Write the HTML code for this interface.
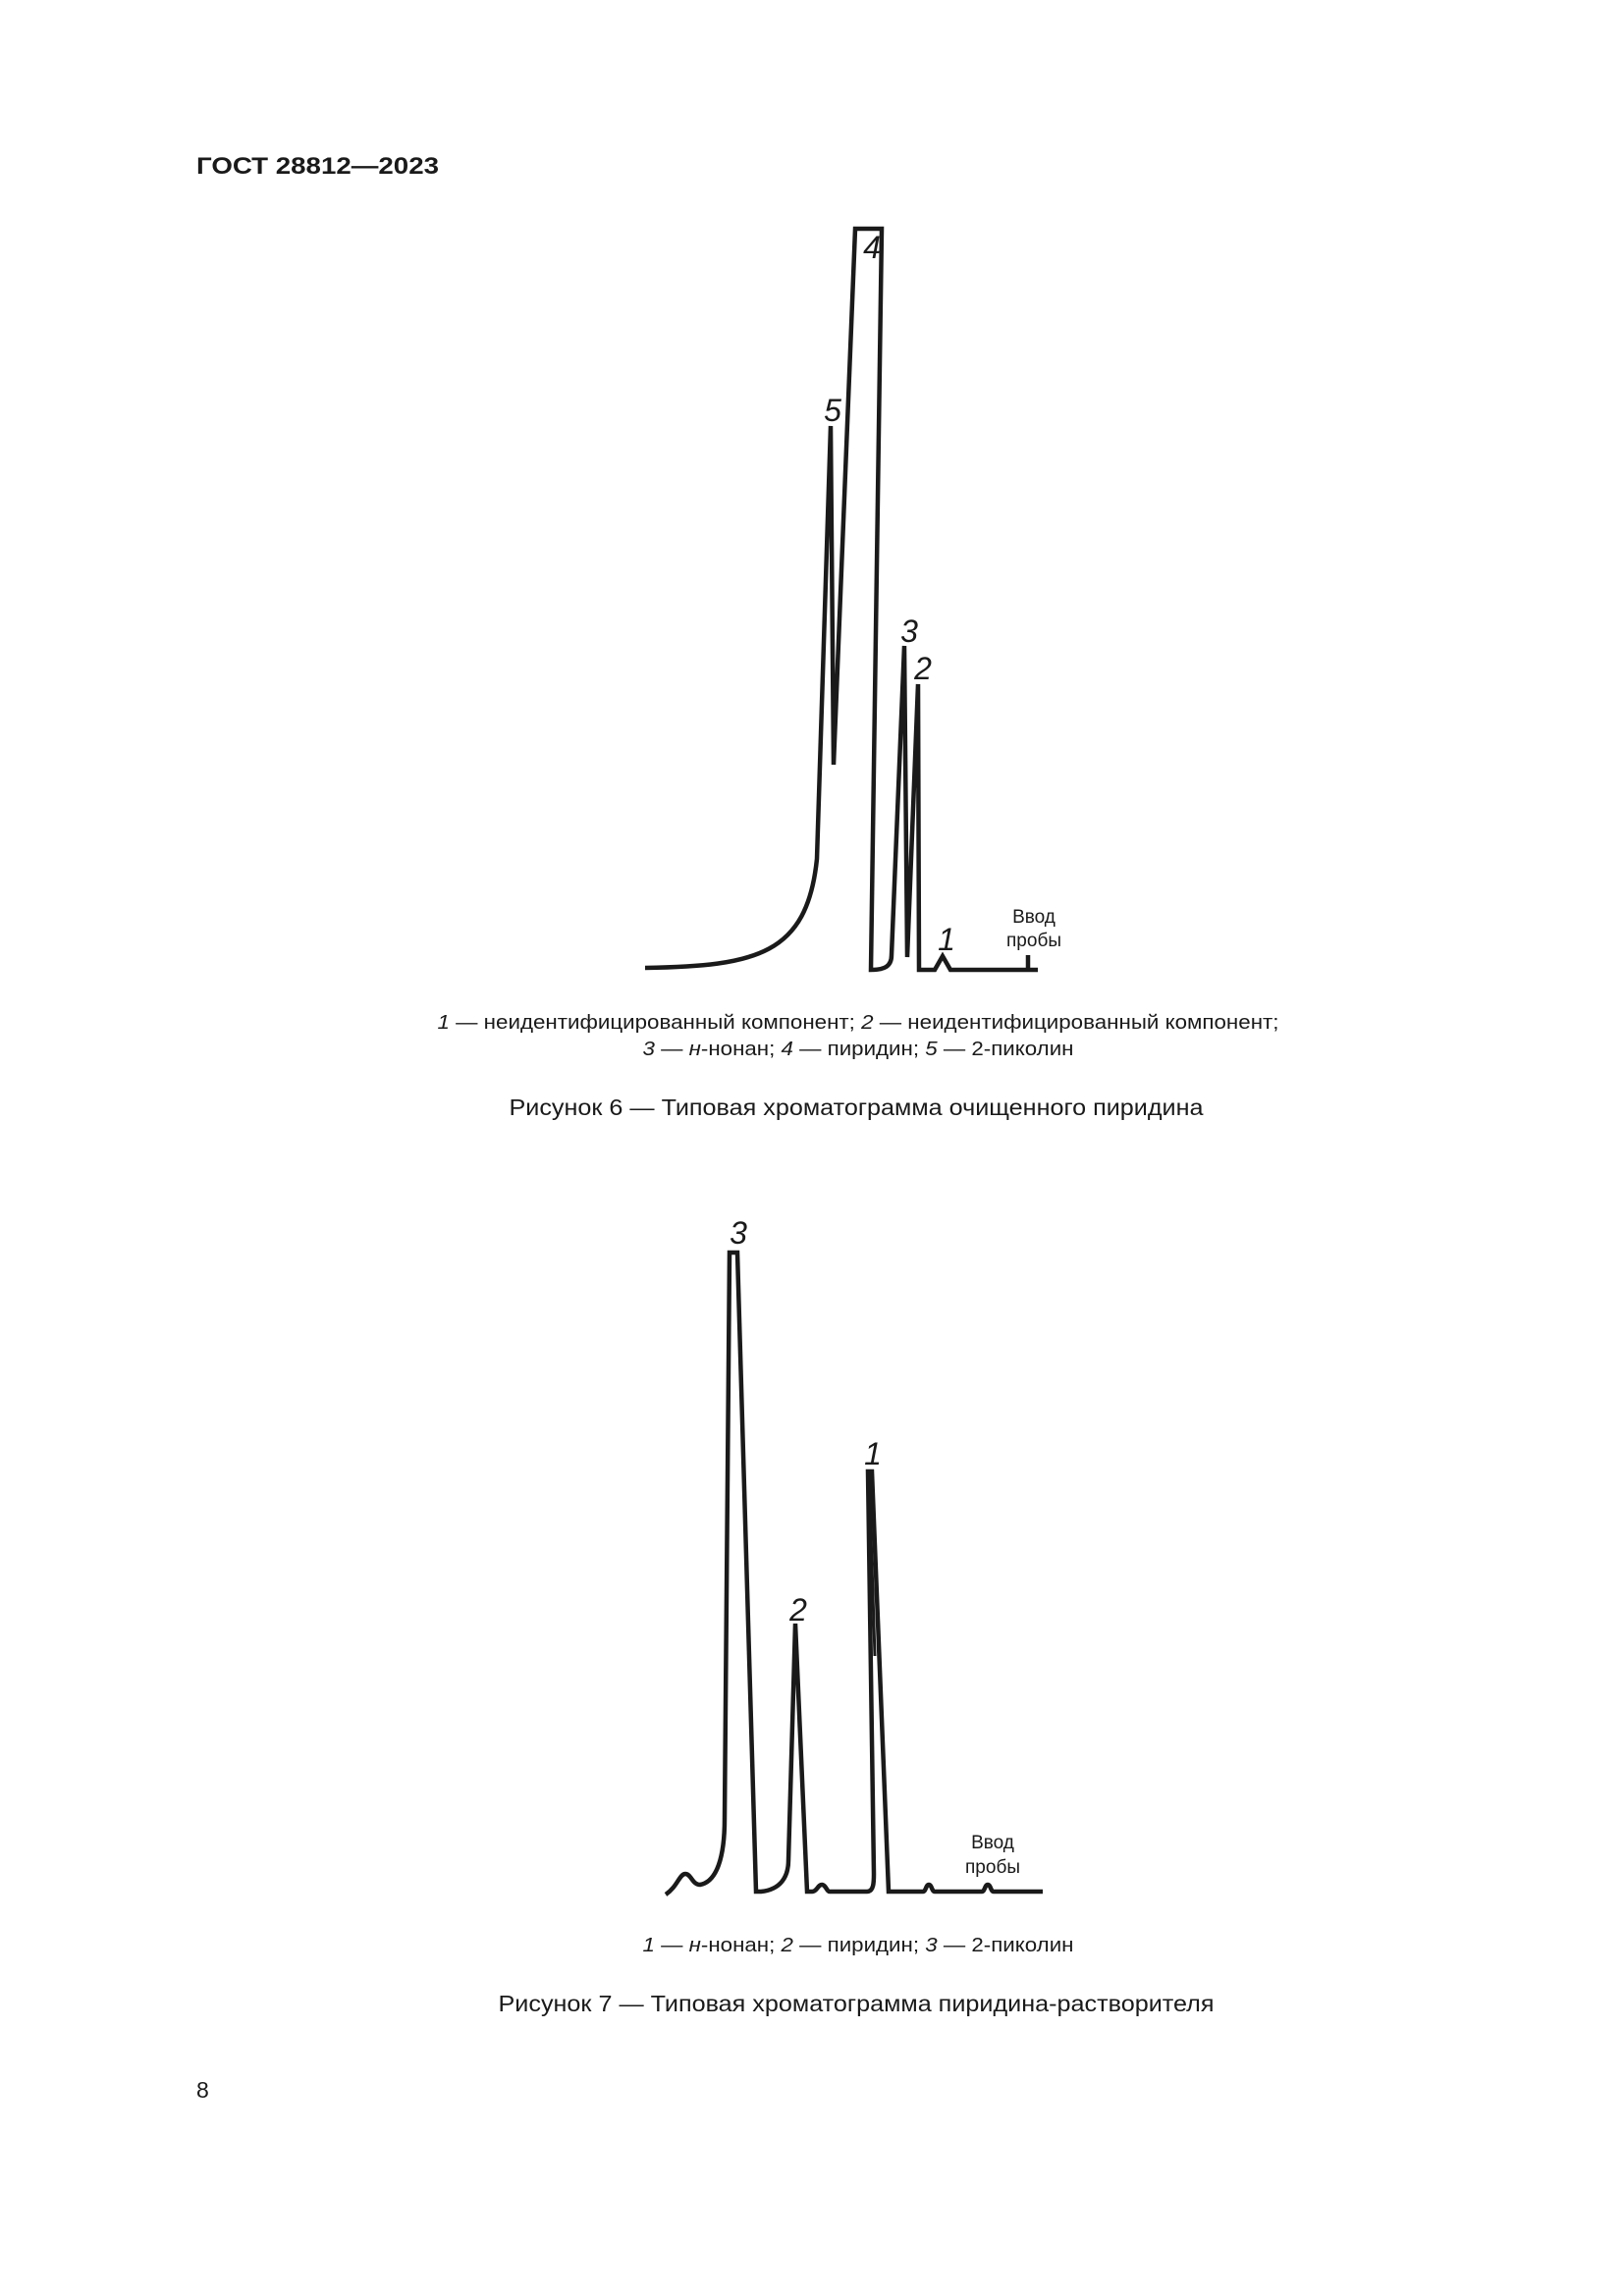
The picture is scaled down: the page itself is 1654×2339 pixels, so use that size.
<!DOCTYPE html>
<html><head><meta charset="utf-8"><style>
html,body{margin:0;padding:0;background:#fff;}
svg{display:block;}
text{font-family:"Liberation Sans",sans-serif;fill:#1a1a1a;}
</style></head><body>
<svg width="1654" height="2339" viewBox="0 0 1654 2339" xmlns="http://www.w3.org/2000/svg">
<rect width="1654" height="2339" fill="#fff"/>
<text x="200" y="177" font-size="24" font-weight="bold" textLength="247" lengthAdjust="spacingAndGlyphs">ГОСТ 28812—2023</text>

<g transform="translate(0,-5)">
<g fill="none" stroke="#1a1a1a" stroke-width="4.5" stroke-linejoin="miter" stroke-linecap="butt">
<path d="M657,991 C770,989 822,978 832,880 L846,439 L849,784 L871,238 L898,238 L887,993 C900,993 908,990 908,978 L921,663 L924,980 L935,702 L936,993 L952,993 L960,979 L968,993 L1057,993"/>
<path d="M1047,993 L1047,978"/>
</g>
<g font-size="32" font-style="italic" text-anchor="middle">
<text x="888" y="268">4</text>
<text x="848" y="434">5</text>
<text x="926" y="659">3</text>
<text x="940" y="697">2</text>
<text x="964" y="973">1</text>
</g>
<g font-size="19" text-anchor="middle">
<text x="1053" y="945">Ввод</text>
<text x="1053" y="969">пробы</text>
</g>
</g>

<g transform="translate(0,-13)">
<g fill="none" stroke="#1a1a1a" stroke-width="4.5" stroke-linejoin="miter" stroke-linecap="butt">
<path d="M678,1943 C690,1935 692,1922 698,1922 C704,1922 705,1933 713,1933 C730,1930 738,1905 738,1866 L743,1289 L751,1289 L770,1940 L775,1940 C795,1938 803,1925 803,1908 L810,1667 L822,1940 L827,1940 C832,1940 833,1933 837,1933 C841,1933 842,1940 845,1940 L883,1940 C890,1940 890,1930 890,1922 L884,1512 L888,1512 L905,1940 L940,1940 C943,1940 943,1933 946,1933 C949,1933 949,1940 952,1940 L1000,1940 C1003,1940 1003,1933 1006,1933 C1009,1933 1009,1940 1012,1940 L1062,1940"/>
<path d="M885,1512 L891,1700" stroke-width="3"/>
</g>
<g font-size="32" font-style="italic" text-anchor="middle">
<text x="752" y="1280">3</text>
<text x="813" y="1664">2</text>
<text x="889" y="1505">1</text>
</g>
<g font-size="19" text-anchor="middle">
<text x="1011" y="1896">Ввод</text>
<text x="1011" y="1921">пробы</text>
</g>
</g>

<text x="874" y="1048" font-size="20" text-anchor="middle" textLength="857" lengthAdjust="spacingAndGlyphs"><tspan font-style="italic">1</tspan> — неидентифицированный компонент; <tspan font-style="italic">2</tspan> — неидентифицированный компонент;</text>
<text x="874" y="1075" font-size="20" text-anchor="middle" textLength="439" lengthAdjust="spacingAndGlyphs"><tspan font-style="italic">3</tspan> — <tspan font-style="italic">н</tspan>-нонан; <tspan font-style="italic">4</tspan> — пиридин; <tspan font-style="italic">5</tspan> — 2-пиколин</text>
<text x="872" y="1136" font-size="23" text-anchor="middle" textLength="707" lengthAdjust="spacingAndGlyphs">Рисунок 6 — Типовая хроматограмма очищенного пиридина</text>

<text x="874" y="1988" font-size="20" text-anchor="middle" textLength="439" lengthAdjust="spacingAndGlyphs"><tspan font-style="italic">1</tspan> — <tspan font-style="italic">н</tspan>-нонан; <tspan font-style="italic">2</tspan> — пиридин; <tspan font-style="italic">3</tspan> — 2-пиколин</text>
<text x="872" y="2049" font-size="23" text-anchor="middle" textLength="729" lengthAdjust="spacingAndGlyphs">Рисунок 7 — Типовая хроматограмма пиридина-растворителя</text>

<text x="200" y="2137" font-size="23">8</text>
</svg>
</body></html>
